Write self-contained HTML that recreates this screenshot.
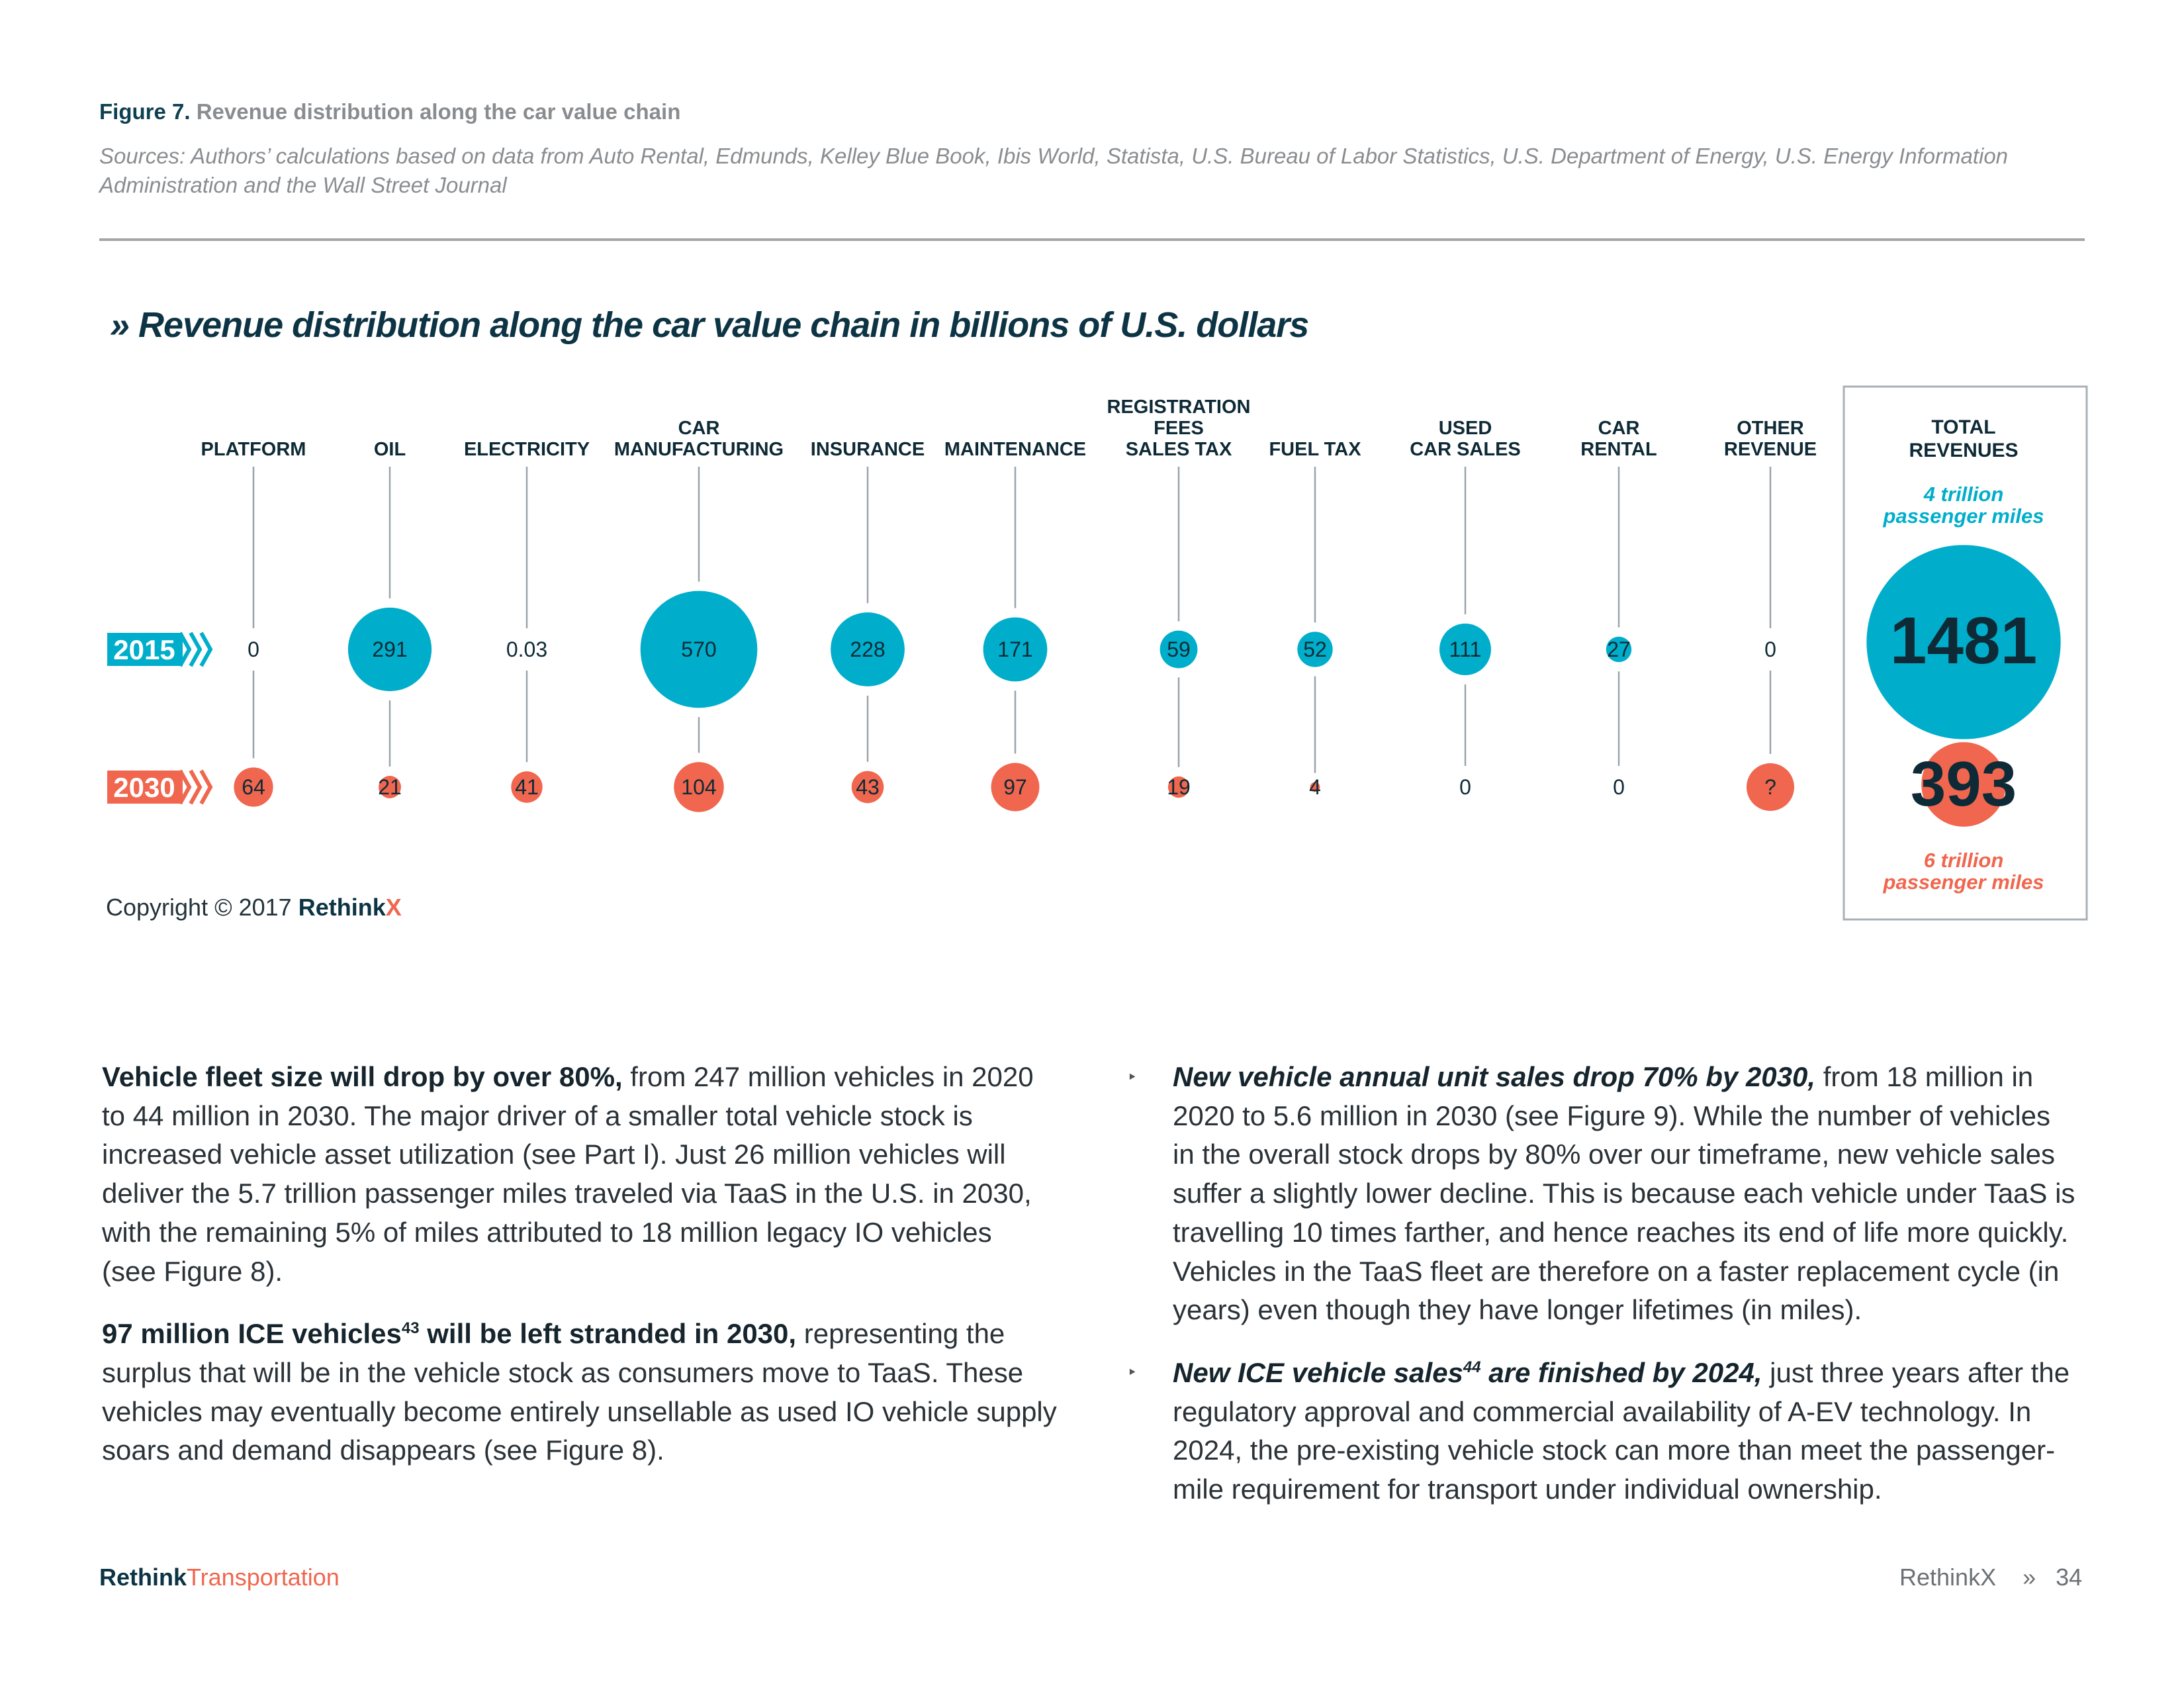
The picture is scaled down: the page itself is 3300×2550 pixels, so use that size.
<!DOCTYPE html>
<html><head><meta charset="utf-8">
<style>
html,body{margin:0;padding:0;background:#fff;}
body{width:3300px;height:2550px;position:relative;overflow:hidden;font-family:"Liberation Sans",sans-serif;color:#1d2b33;}
.abs{position:absolute;white-space:nowrap;}
.body{font-size:42px;line-height:58.7px;color:#2a3238;}
.body b{color:#16252d;}
</style></head><body>
<div class="abs" style="left:150px;top:150px;font-size:33px;font-weight:bold;color:#0d4050;">Figure 7. <span style="color:#8a8d90;">Revenue distribution along the car value chain</span></div>
<div class="abs" style="left:150px;top:214px;font-size:33px;font-style:italic;color:#8a8d90;line-height:44px;">Sources: Authors’ calculations based on data from Auto Rental, Edmunds, Kelley Blue Book, Ibis World, Statista, U.S. Bureau of Labor Statistics, U.S. Department of Energy, U.S. Energy Information<br>Administration and the Wall Street Journal</div>
<div class="abs" style="left:150px;top:360px;width:3000px;height:4px;background:#a3a5a7;"></div>
<div class="abs" style="left:166px;top:460px;font-size:54px;font-weight:bold;font-style:italic;color:#0d3444;letter-spacing:-1px;">» Revenue distribution along the car value chain in billions of U.S. dollars</div>

<svg id="chart" width="3300" height="1450" style="position:absolute;left:0;top:0;" xmlns="http://www.w3.org/2000/svg"></svg>

<div class="abs" style="left:160px;top:1350px;font-size:36px;color:#24333b;">Copyright © 2017 <b style="color:#0d3444;">Rethink</b><b style="color:#f0664e;">X</b></div>

<div class="abs body" style="left:154px;top:1598px;">
<b>Vehicle fleet size will drop by over 80%,</b> from 247 million vehicles in 2020<br>to 44 million in 2030. The major driver of a smaller total vehicle stock is<br>increased vehicle asset utilization (see Part I). Just 26 million vehicles will<br>deliver the 5.7 trillion passenger miles traveled via TaaS in the U.S. in 2030,<br>with the remaining 5% of miles attributed to 18 million legacy IO vehicles<br>(see Figure 8).
<div style="height:28px"></div>
<b>97 million ICE vehicles<sup style="font-size:24px">43</sup> will be left stranded in 2030,</b> representing the<br>surplus that will be in the vehicle stock as consumers move to TaaS. These<br>vehicles may eventually become entirely unsellable as used IO vehicle supply<br>soars and demand disappears (see Figure 8).
</div>
<div class="abs" style="left:1703px;top:1612px;font-size:26px;color:#555;">‣</div>
<div class="abs" style="left:1703px;top:2058px;font-size:26px;color:#555;">‣</div>
<div class="abs body" style="left:1772px;top:1598px;">
<b><i>New vehicle annual unit sales drop 70% by 2030,</i></b> from 18 million in<br>2020 to 5.6 million in 2030 (see Figure 9). While the number of vehicles<br>in the overall stock drops by 80% over our timeframe, new vehicle sales<br>suffer a slightly lower decline. This is because each vehicle under TaaS is<br>travelling 10 times farther, and hence reaches its end of life more quickly.<br>Vehicles in the TaaS fleet are therefore on a faster replacement cycle (in<br>years) even though they have longer lifetimes (in miles).
<div style="height:28px"></div>
<b><i>New ICE vehicle sales<sup style="font-size:24px">44</sup> are finished by 2024,</i></b> just three years after the<br>regulatory approval and commercial availability of A-EV technology. In<br>2024, the pre-existing vehicle stock can more than meet the passenger-<br>mile requirement for transport under individual ownership.
</div>
<div class="abs" style="left:150px;top:2362px;font-size:36px;font-weight:bold;color:#0d3444;">Rethink<span style="color:#f0664e;font-weight:normal;">Transportation</span></div>
<div class="abs" style="left:2870px;top:2362px;font-size:36px;color:#6d7175;">RethinkX &nbsp;&nbsp;&nbsp;» &nbsp;&nbsp;34</div>

<script>
const categories = [["PLATFORM"],["OIL"],["ELECTRICITY"],["CAR","MANUFACTURING"],["INSURANCE"],["MAINTENANCE"],["REGISTRATION","FEES","SALES TAX"],["FUEL TAX"],["USED","CAR SALES"],["CAR","RENTAL"],["OTHER","REVENUE"]];
const values2015 = [0,291,0.03,570,228,171,59,52,111,27,0];
const labels2015 = ["0","291","0.03","570","228","171","59","52","111","27","0"];
const values2030 = [64,21,41,104,43,97,19,4,0,0,null];
const labels2030 = ["64","21","41","104","43","97","19","4","0","0","?"];
const total2015 = 1481;
const total2030 = 393;

const NS="http://www.w3.org/2000/svg";
const svg=document.getElementById('chart');
const TEAL="#00aecb", CORAL="#f0664e", DARK="#0e2a36";
const colX=[383,589,796,1056,1311,1534,1781,1987,2214,2446,2675];
const xPos=i=>colX[i];
const y2015=981, y2030=1189, lineTop=705;
const rScale=v=>3.7*Math.sqrt(v);
function mk(tag,attrs){const e=document.createElementNS(NS,tag);for(const k in attrs)e.setAttribute(k,attrs[k]);svg.appendChild(e);return e;}
function txt(x,y,s,size,fill,extra){const t=mk('text',Object.assign({x:x,y:y,'font-size':size,fill:fill,'text-anchor':'middle','font-family':'"Liberation Sans Narrow","Liberation Sans",sans-serif'},extra||{}));t.textContent=s;return t;}

// year badges
[[y2015,TEAL,"2015"],[y2030,CORAL,"2030"]].forEach(([y,c,s])=>{
  const g=mk('g',{});
  
  
  mk('rect',{x:162,y:y-25,width:114,height:50,fill:c});
  for(let k=0;k<3;k++){const x0=272+k*16;mk('polyline',{points:`${x0},${y-25} ${x0+14},${y} ${x0},${y+25}`,fill:'none',stroke:c,'stroke-width':6});}
  const t=txt(218,y+15,s,42,'#fff',{'font-weight':'bold'});
  
  
});

categories.forEach((lines,i)=>{
  const x=xPos(i);
  const n=lines.length;
  lines.forEach((l,j)=>{
    const t=txt(x,688-(n-1-j)*32,l,29,DARK,{'font-weight':'bold'});
    
    
  });
  const v1=values2015[i], v2=values2030[i];
  const r1=v1>0.5?rScale(v1):18;
  const r2=v2===null?36:(v2>0?rScale(v2):18);
  const gap=14;
  const l1=mk('line',{x1:x,y1:lineTop,x2:x,y2:y2015-r1-gap,stroke:'#9aa3aa','stroke-width':2.5});
  
  
  const l2=mk('line',{x1:x,y1:y2015+r1+gap,x2:x,y2:y2030-r2-gap,stroke:'#9aa3aa','stroke-width':2.5});
  
  
  if(v1>0.5){const c=mk('circle',{cx:x,cy:y2015,r:r1,fill:TEAL});
    
    }
  const t1=txt(x,y2015+11,labels2015[i],32,DARK);
  
  
  if(v2===null||v2>0){const c=mk('circle',{cx:x,cy:y2030,r:r2,fill:CORAL});
    
    }
  const t2=txt(x,y2030+11,labels2030[i],32,DARK);
  
  
});

// totals box
const box=mk('rect',{x:2786,y:584,width:367,height:805,fill:'none',stroke:'#a9b0b5','stroke-width':3});


const tx=2967;
[["TOTAL",655],["REVENUES",690]].forEach(([s,y])=>{const t=txt(tx,y,s,30,DARK,{'font-weight':'bold'});
  
  });
[["4 trillion",757],["passenger miles",790]].forEach(([s,y])=>{const t=txt(tx,y,s,31,TEAL,{'font-weight':'bold','font-style':'italic'});
  
  });
const rT1=rScale(total2015)*1.03, rT2=rScale(total2030)*0.87;
const cT1=mk('circle',{cx:tx,cy:970,r:rT1,fill:TEAL});


const cT2=mk('circle',{cx:tx,cy:1185,r:rT2,fill:CORAL});


const tt1=txt(tx,1002,String(total2015),100,DARK,{'font-weight':'bold'});


const tt2=txt(tx,1217,String(total2030),96,DARK,{'font-weight':'bold'});


[["6 trillion",1310],["passenger miles",1343]].forEach(([s,y])=>{const t=txt(tx,y,s,31,CORAL,{'font-weight':'bold','font-style':'italic'});
  
  });
</script>
</body></html>
